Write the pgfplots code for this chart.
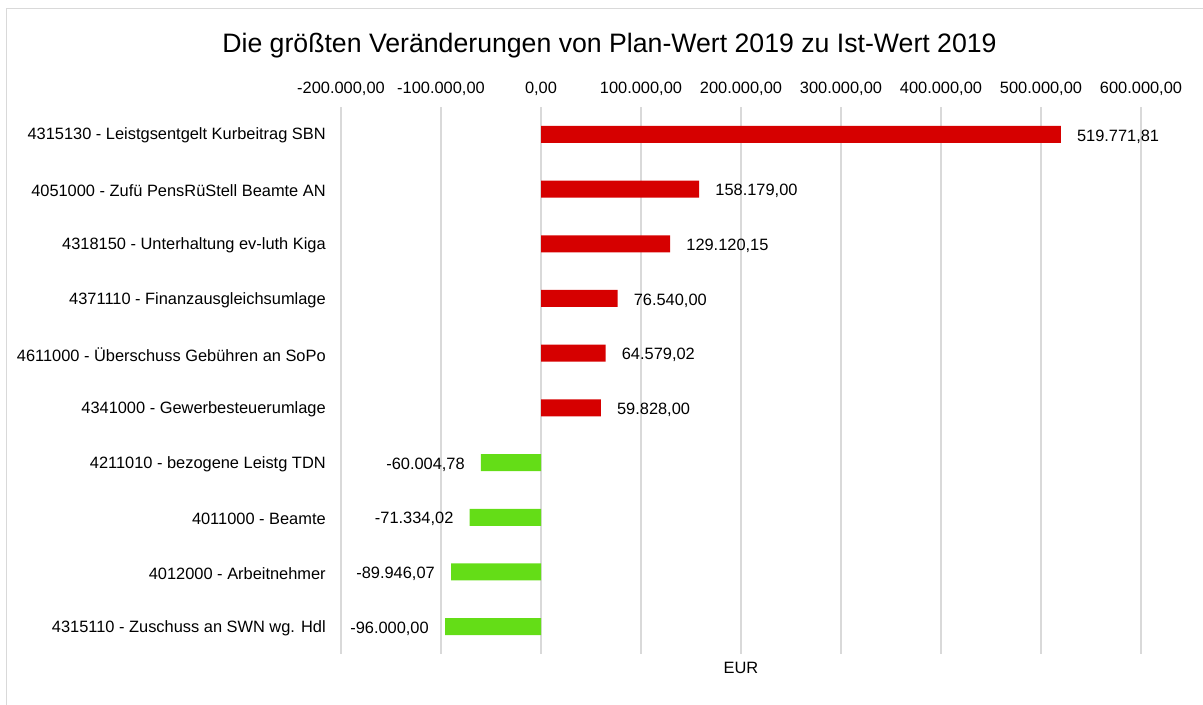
\documentclass[border=0pt]{standalone}
\usepackage{pgfplots}
\pgfplotsset{compat=1.18}
\usepackage{pgfplotstable}
\usepackage{fontspec}
\setmainfont{Liberation Sans}
\definecolor{barred}{RGB}{214,0,0}
\definecolor{bargreen}{RGB}{100,221,23}
\definecolor{gridc}{RGB}{217,217,217}

\pgfplotstableread{
y x lbl
0 519771.81 519.771,81
1 158179.00 158.179,00
2 129120.15 129.120,15
3 76540.00 76.540,00
4 64579.02 64.579,02
5 59828.00 59.828,00
}\posdata
\pgfplotstableread{
y x lbl
6 -60004.78 -60.004,78
7 -71334.02 -71.334,02
8 -89946.07 -89.946,07
9 -96000.00 -96.000,00
}\negdata

\begin{document}
\begin{tikzpicture}
\useasboundingbox (0pt,0pt) rectangle (902.25pt,-528pt);
\draw[gridc, line width=0.75pt] (4.5pt,-535pt) -- (4.5pt,-6pt) -- (910pt,-6pt);
\node[anchor=base, font=\fontsize{20}{22}\selectfont, inner sep=0pt] at (457.1pt,-39.4pt)
  {Die größten Veränderungen von Plan-Wert 2019 zu Ist-Wert 2019};
\begin{axis}[
  at={(255.75pt,-80.25pt)}, anchor=north west,
  width=600pt, height=410.25pt, scale only axis,
  xmin=-200000, xmax=600000, ymin=-0.5, ymax=9.5, y dir=reverse,
  xbar, bar width=12.75pt, bar shift=0pt,
  axis line style={draw=none},
  xmajorgrids, grid style={gridc, line width=1.1pt},
  major tick length=0pt,
  xtick={-200000,-100000,0,100000,200000,300000,400000,500000,600000},
  xticklabels={{-200.000,00},{-100.000,00},{0,00},{100.000,00},{200.000,00},{300.000,00},{400.000,00},{500.000,00},{600.000,00}},
  xticklabel pos=upper,
  scaled x ticks=false,
  xticklabel style={anchor=base, yshift=10.3pt, inner sep=0pt},
  ytick={0,1,2,3,4,5,6,7,8,9},
  yticklabels={
    {4315130 - Leistgsentgelt Kurbeitrag SBN},
    {4051000 - Zufü PensRüStell Beamte AN},
    {4318150 - Unterhaltung ev-luth Kiga},
    {4371110 - Finanzausgleichsumlage},
    {4611000 - Überschuss Gebühren an SoPo},
    {4341000 - Gewerbesteuerumlage},
    {4211010 - bezogene Leistg TDN},
    {4011000 - Beamte},
    {4012000 - Arbeitnehmer},
    {4315110 - Zuschuss an SWN wg. Hdl}},
  yticklabel style={anchor=east, inner sep=0pt, xshift=-11.25pt, yshift=-1pt},
  tick label style={font=\fontsize{12.3}{14}\selectfont, text=black},
  clip=false,
]
\addplot[draw=none, fill=barred,
  nodes near coords, point meta=explicit symbolic,
  every node near coord/.append style={anchor=west, inner sep=0pt, xshift=12pt, yshift=-1.5pt, font=\fontsize{12.3}{14}\selectfont, text=black}]
  table[x=x, y=y, meta=lbl] {\posdata};
\addplot[draw=none, fill=bargreen,
  nodes near coords, point meta=explicit symbolic,
  every node near coord/.append style={anchor=east, inner sep=0pt, xshift=-12pt, yshift=-1.5pt, font=\fontsize{12.3}{14}\selectfont, text=black}]
  table[x=x, y=y, meta=lbl] {\negdata};
\node[anchor=base, font=\fontsize{12.3}{14}\selectfont, inner sep=0pt, yshift=-14.5pt] at (axis description cs:0.5,0) {EUR};
\end{axis}
\end{tikzpicture}
\end{document}
